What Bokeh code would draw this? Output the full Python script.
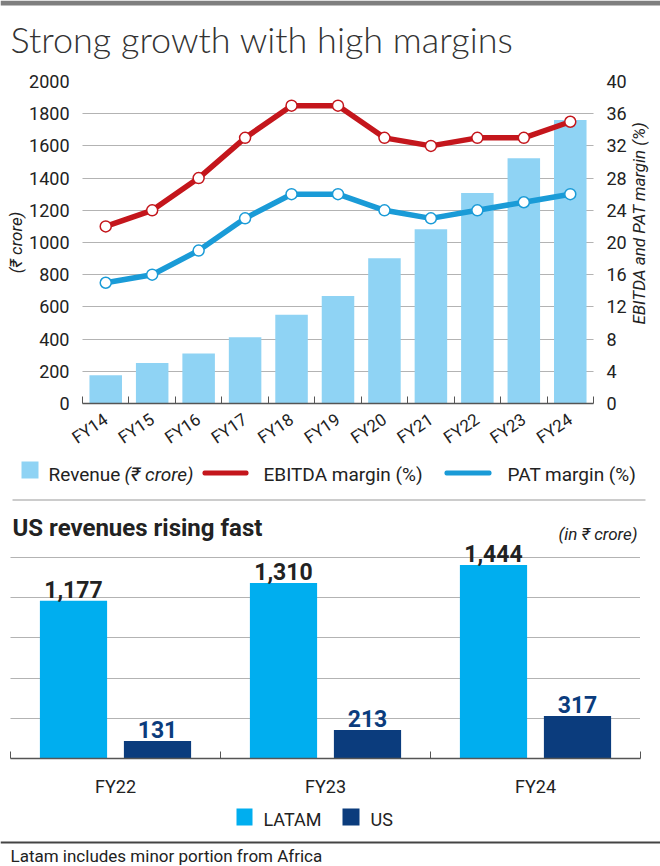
from math import pi
from bokeh.plotting import figure
from bokeh.models import (Range1d, LinearAxis, FixedTicker, ColumnDataSource, Label,
                          LabelSet, BoxAnnotation)
from bokeh.layouts import row
from bokeh.transform import dodge
from bokeh.core.properties import value
from bokeh.embed import file_html
from bokeh.resources import INLINE

# ---------------- data ----------------
years = ["FY14", "FY15", "FY16", "FY17", "FY18", "FY19", "FY20", "FY21", "FY22", "FY23", "FY24"]
revenue = [175, 252, 311, 411, 551, 667, 902, 1082, 1308, 1523, 1761]
ebitda_margin = [22, 24, 28, 33, 37, 37, 33, 32, 33, 33, 35]
pat_margin = [15, 16, 19, 23, 26, 26, 24, 23, 24, 25, 26]
revenue_ticks = [0, 200, 400, 600, 800, 1000, 1200, 1400, 1600, 1800, 2000]
margin_ticks = [0, 4, 8, 12, 16, 20, 24, 28, 32, 36, 40]

seg_years = ["FY22", "FY23", "FY24"]
latam = [1177, 1310, 1444]
us = [131, 213, 317]
seg_grid = [300, 600, 900, 1200, 1500]

# ---------------- style ----------------
W = 660
SANS = "Roboto"
LIGHT = "Lato Light"
TXT = "#222222"
BAR = "#8fd3f4"
RED = "#c4161c"
BLUE = "#1a9bd7"
LATAM_C = "#00aeef"
US_C = "#0b3c7d"
GRID = "#666666"


def blank(h, w=W, xr=None, yr=None):
    f = figure(width=w, height=h, x_range=xr or Range1d(0, w), y_range=yr or Range1d(0, h),
               output_backend="svg", toolbar_location=None, min_border=0,
               x_axis_location=None, y_axis_location=None, outline_line_color=None)
    f.xgrid.visible = False
    f.ygrid.visible = False
    return f


def box(f, l, r, b, t, color, radius=0):
    f.add_layout(BoxAnnotation(left=l, right=r, bottom=b, top=t, left_units="screen",
                               right_units="screen", bottom_units="screen", top_units="screen",
                               fill_color=color, fill_alpha=1.0, line_color=None,
                               border_radius=radius))


def label(f, x, y, text, size, font=SANS, style="normal", align="left",
          color=TXT, angle=0, units="screen"):
    f.add_layout(Label(x=x, y=y, x_units=units, y_units=units, text=text,
                       text_font=font, text_font_size=size, text_font_style=style,
                       text_align=align, text_baseline="middle", text_color=color,
                       angle=angle))


# ---------------- header ----------------
hdr = blank(62)
box(hdr, 0, W, 57, 62, "#7f7f7f")
label(hdr, 10, 24, "Strong growth with high margins", "36px", font=LIGHT, color="#333333")

# ---------------- top chart ----------------
xpos = [i + 0.5 for i in range(len(years))]
src = ColumnDataSource(dict(x=xpos, year=years, revenue=revenue,
                            ebitda=ebitda_margin, pat=pat_margin))

TW = 630
TH = 396
p = figure(width=TW, height=TH, x_range=Range1d(0, len(years)), y_range=Range1d(0, 2000),
           output_backend="svg", toolbar_location=None, outline_line_color=None,
           min_border_left=82, min_border_right=37, min_border_top=19, min_border_bottom=54)
p.extra_y_ranges = {"pct": Range1d(0, 40)}

p.vbar(x="x", top="revenue", width=0.7, source=src, fill_color=BAR, line_color=None)
p.line("x", "ebitda", source=src, y_range_name="pct", line_color=RED, line_width=5.5)
p.scatter("x", "ebitda", source=src, y_range_name="pct", size=11, fill_color="white",
          line_color=RED, line_width=1.5)
p.line("x", "pat", source=src, y_range_name="pct", line_color=BLUE, line_width=5.5)
p.scatter("x", "pat", source=src, y_range_name="pct", size=11, fill_color="white",
          line_color=BLUE, line_width=1.5)

p.xgrid.visible = False
p.ygrid.ticker = FixedTicker(ticks=revenue_ticks[1:])
p.ygrid.grid_line_color = GRID
p.ygrid.grid_line_dash = "1 1"
p.ygrid.grid_line_width = 1

ry = LinearAxis(y_range_name="pct", ticker=FixedTicker(ticks=margin_ticks))
p.add_layout(ry, "right")
p.yaxis[0].ticker = FixedTicker(ticks=revenue_ticks)
p.yaxis[0].axis_label = "(₹ crore)"
for ax in p.yaxis:
    ax.axis_line_color = None
    ax.major_tick_line_color = None
    ax.minor_tick_line_color = None
    ax.major_label_text_font = SANS
    ax.major_label_text_font_size = "18px"
    ax.major_label_text_color = TXT
    ax.major_label_standoff = 7
    ax.axis_label_text_font = SANS
    ax.axis_label_text_font_size = "17px"
    ax.axis_label_text_font_style = "italic"
    ax.axis_label_text_color = TXT
    ax.axis_label_standoff = 0

xa = p.xaxis[0]
xa.ticker = FixedTicker(ticks=xpos, minor_ticks=list(range(len(years) + 1)))
xa.major_label_overrides = {x: y for x, y in zip(xpos, years)}
xa.major_tick_line_color = None
xa.minor_tick_line_color = "#555555"
xa.minor_tick_in = 7
xa.minor_tick_out = 0
xa.axis_line_color = "#555555"
xa.axis_line_width = 1.5
xa.major_label_orientation = 0.6
xa.major_label_text_font = SANS
xa.major_label_text_font_size = "17px"
xa.major_label_text_color = TXT
xa.major_label_standoff = 8

# right-hand axis title, reading bottom to top
side = blank(TH, w=W - TW, xr=Range1d(0, 1), yr=Range1d(0, 1))
label(side, 0.27, 0.56, "EBITDA and PAT margin (%)", "17px", style="italic",
      align="center", angle=pi / 2, units="data")
top_row = row(p, side, spacing=0)

# ---------------- legend row ----------------
lg = blank(47)
box(lg, 21, 38, 27, 44, BAR)
label(lg, 48, 31, "Revenue", "19px")
label(lg, 124, 31, "(₹ crore)", "19px", style="italic")
box(lg, 202, 248, 30, 35, RED, radius=2)
label(lg, 263, 31, "EBITDA margin (%)", "19px")
box(lg, 444, 491, 30, 35, BLUE, radius=2)
label(lg, 507, 31, "PAT margin (%)", "19px")
box(lg, 12, 645, 5, 6, "#9a9a9a")

# ---------------- bottom chart ----------------
bx = [i + 0.5 for i in range(len(seg_years))]
bsrc = ColumnDataSource(dict(x=bx, year=seg_years, latam=latam, us=us,
                             latam_t=[f"{v:,}" for v in latam], us_t=[f"{v:,}" for v in us]))

b = figure(width=W, height=295, x_range=Range1d(0, len(seg_years)), y_range=Range1d(0, 1888),
           output_backend="svg", toolbar_location=None, outline_line_color=None,
           y_axis_location=None, min_border_left=10, min_border_right=20,
           min_border_top=0, min_border_bottom=42)
b.vbar(x=dodge("x", -0.2), top="latam", width=0.32, source=bsrc, fill_color=LATAM_C,
       line_color=None)
b.vbar(x=dodge("x", 0.2), top="us", width=0.32, source=bsrc, fill_color=US_C, line_color=None)
b.add_layout(LabelSet(x=dodge("x", -0.2), y="latam", text="latam_t", source=bsrc,
                      text_align="center", text_baseline="bottom", y_offset=3,
                      text_font=value(SANS), text_font_style="bold", text_font_size="23px",
                      text_color=TXT))
b.add_layout(LabelSet(x=dodge("x", 0.2), y="us", text="us_t", source=bsrc,
                      text_align="center", text_baseline="bottom", y_offset=3,
                      text_font=value(SANS), text_font_style="bold", text_font_size="23px",
                      text_color=US_C))

b.xgrid.visible = False
b.ygrid.ticker = FixedTicker(ticks=seg_grid)
b.ygrid.grid_line_color = GRID
b.ygrid.grid_line_dash = "1 1"

bxa = b.xaxis[0]
bxa.ticker = FixedTicker(ticks=bx, minor_ticks=list(range(len(seg_years) + 1)))
bxa.major_label_overrides = {x: y for x, y in zip(bx, seg_years)}
bxa.major_tick_line_color = None
bxa.minor_tick_line_color = "#555555"
bxa.minor_tick_in = 7
bxa.minor_tick_out = 0
bxa.axis_line_color = "#555555"
bxa.axis_line_width = 1.5
bxa.major_label_text_font = SANS
bxa.major_label_text_font_size = "18px"
bxa.major_label_text_color = TXT
bxa.major_label_standoff = 11

label(b, 2, 231, "US revenues rising fast", "24px", style="bold")
label(b, 627, 225, "(in ₹ crore)", "17px", style="italic", align="right")

# ---------------- footer ----------------
ft = blank(66)
box(ft, 236, 252, 41, 58, LATAM_C)
label(ft, 263, 47, "LATAM", "18px")
box(ft, 342, 359, 41, 58, US_C)
label(ft, 370, 47, "US", "18px")
box(ft, 0, W, 23, 25, "#444444")
label(ft, 10, 11, "Latam includes minor portion from Africa", "17px")

open("out.html", "w").write(file_html([hdr, top_row, lg, b, ft], INLINE))
